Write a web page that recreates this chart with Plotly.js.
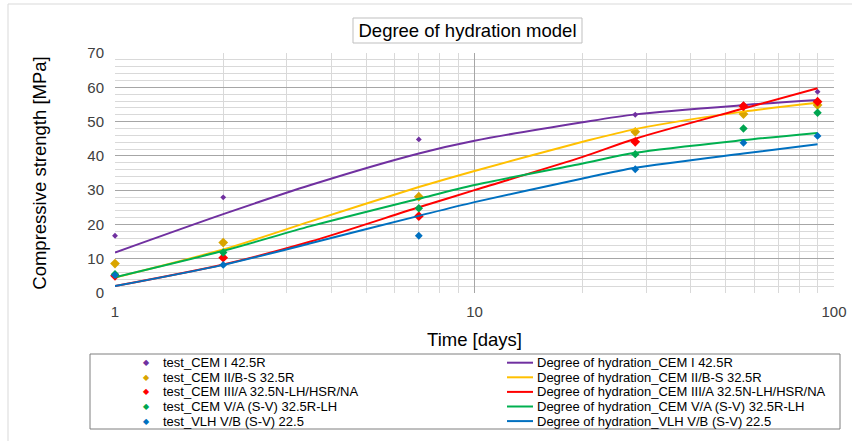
<!DOCTYPE html>
<html>
<head>
<meta charset="utf-8">
<script src="https://cdn.plot.ly/plotly-3.0.1.min.js"></script>
<style>html,body{margin:0;padding:0;background:#fff;}#chart{width:852px;height:441px;}</style>
</head>
<body>
<div id="chart"></div>
<script>
// ---- data ----
const testDays = [1, 2, 7, 28, 56, 90];
const modelDays = [1, 2, 3.5, 7, 10, 20, 28, 56, 90];

const testNames = ["test_CEM I 42.5R", "test_CEM II/B-S 32.5R", "test_CEM III/A 32.5N-LH/HSR/NA", "test_CEM V/A (S-V) 32.5R-LH", "test_VLH V/B (S-V) 22.5"];
const modelNames = ["Degree of hydration_CEM I 42.5R", "Degree of hydration_CEM II/B-S 32.5R", "Degree of hydration_CEM III/A 32.5N-LH/HSR/NA", "Degree of hydration_CEM V/A (S-V) 32.5R-LH", "Degree of hydration_VLH V/B (S-V) 22.5"];

const testCEM1   = [16.7, 27.9, 44.8, 52.0, 55.0, 58.7];
const testCEM2   = [8.6, 14.7, 28.1, 47.0, 52.2, 54.8];
const testCEM3   = [5.0, 10.3, 22.4, 44.1, 54.5, 55.8];
const testCEM5   = [5.5, 11.8, 24.7, 40.5, 48.0, 52.6];
const testVLH    = [5.2, 8.2, 16.7, 36.1, 43.8, 45.8];

const modelCEM1  = [11.8, 23.0, 31.5, 40.7, 44.4, 49.8, 52.1, 54.8, 56.3];
const modelCEM2  = [4.5, 12.7, 20.9, 30.9, 35.6, 44.1, 47.8, 52.9, 55.5];
const modelCEM3  = [2.0, 8.3, 15.0, 25.0, 30.0, 39.7, 45.0, 53.8, 59.7];
const modelCEM5  = [4.6, 12.3, 19.5, 27.5, 31.5, 37.8, 40.9, 44.6, 46.7];
const modelVLH   = [2.0, 8.2, 14.5, 22.5, 26.5, 33.4, 36.5, 40.7, 43.4];

const xTickVals = [1, 10, 100];
const xMinorVals = [2,3,4,5,6,7,8,9,20,30,40,50,60,70,80,90];

// ---- styles ----
const testSeries = [testCEM1, testCEM2, testCEM3, testCEM5, testVLH];
const modelSeries = [modelCEM1, modelCEM2, modelCEM3, modelCEM5, modelVLH];
const markerColors = ["#7030A0", "#D9A400", "#FF0000", "#00A550", "#0070C0"];
const lineColors = ["#7030A0", "#FFC000", "#FF0000", "#00B050", "#0070C0"];
const markerSizes = [4.5, 7.5, 7.5, 6.5, 6];

const traces = [];
for (let i = 0; i < 5; i++) {
  traces.push({
    type: "scatter", mode: "markers", name: testNames[i],
    x: testDays, y: testSeries[i], showlegend: false,
    marker: {symbol: "diamond", size: markerSizes[i], color: markerColors[i], line: {width: 0}},
    cliponaxis: false
  });
  traces.push({
    type: "scatter", mode: "lines", name: modelNames[i],
    x: modelDays, y: modelSeries[i], showlegend: false,
    line: {color: lineColors[i], width: 2, shape: "spline", smoothing: 0.8}
  });
}

// plot area in pixels: left 115, right 834, top 53, bottom 293
const PL = 115, PR = 834, PT = 53, PB = 293;
const px = v => (v - PL) / (PR - PL);
const py = v => (PB - v) / (PB - PT);

const FONT = "Liberation Sans, Arial, sans-serif";
const shapes = [
  {type: "rect", xref: "paper", yref: "paper", x0: px(8), x1: px(870), y0: py(4), y1: py(460),
   line: {color: "#D9D9D9", width: 1}, layer: "below"},
  {type: "rect", xref: "paper", yref: "paper", x0: px(353), x1: px(582), y0: py(43), y1: py(18),
   line: {color: "#BFBFBF", width: 1}},
  {type: "rect", xref: "paper", yref: "paper", x0: px(90), x1: px(840), y0: py(429), y1: py(354),
   line: {color: "#7F7F7F", width: 1}}
];
const annotations = [];
for (let i = 0; i < 5; i++) {
  const ry = 362.7 + 14.6 * i;
  annotations.push({xref: "paper", yref: "paper", x: px(146), y: py(ry), text: "◆", showarrow: false,
    xanchor: "center", yanchor: "middle", font: {family: "DejaVu Sans", size: 8, color: markerColors[i]}});
  annotations.push({xref: "paper", yref: "paper", x: px(161), y: py(ry), text: testNames[i], showarrow: false,
    xanchor: "left", yanchor: "middle", font: {family: FONT, size: 13, color: "#000"}});
  shapes.push({type: "line", xref: "paper", yref: "paper", x0: px(507), x1: px(533), y0: py(ry), y1: py(ry),
    line: {color: lineColors[i], width: 2}});
  annotations.push({xref: "paper", yref: "paper", x: px(535), y: py(ry), text: modelNames[i], showarrow: false,
    xanchor: "left", yanchor: "middle", font: {family: FONT, size: 13, color: "#000"}});
}

const layout = {
  width: 852, height: 441,
  margin: {l: PL, r: 852 - PR, t: PT, b: 441 - PB, pad: 0},
  paper_bgcolor: "#fff", plot_bgcolor: "#fff",
  font: {family: FONT, color: "#000"},
  title: {text: "Degree of hydration model", x: px(467.5), xref: "paper", xanchor: "center",
          y: 1 - 31 / 441, yref: "container", yanchor: "middle",
          font: {family: FONT, size: 18.5, color: "#000"}},
  xaxis: {
    type: "log", range: [0, 2],
    tickvals: xTickVals, ticktext: xTickVals.map(String), ticks: "",
    showgrid: true, gridcolor: "#A6A6A6", gridwidth: 1,
    minor: {tickvals: xMinorVals, showgrid: true, gridcolor: "#D9D9D9", gridwidth: 1, ticks: ""},
    zeroline: false, showline: false,
    tickfont: {family: FONT, size: 15, color: "#404040"}, ticklabelstandoff: 8,
    title: {text: "Time [days]", font: {family: FONT, size: 18.5, color: "#000"}, standoff: 14}
  },
  yaxis: {
    range: [0, 70], dtick: 10, tick0: 0, ticks: "",
    showgrid: true, gridcolor: "#A6A6A6", gridwidth: 1,
    minor: {dtick: 2, showgrid: true, gridcolor: "#D9D9D9", gridwidth: 1, ticks: ""},
    zeroline: false, showline: false,
    tickfont: {family: FONT, size: 15, color: "#404040"}, ticklabelstandoff: 10,
    title: {text: "Compressive strength [MPa]", font: {family: FONT, size: 18.5, color: "#000"}, standoff: 35}
  },
  shapes: shapes,
  annotations: annotations,
  showlegend: false
};

Plotly.newPlot("chart", traces, layout, {displayModeBar: false, staticPlot: true});
</script>
</body>
</html>
